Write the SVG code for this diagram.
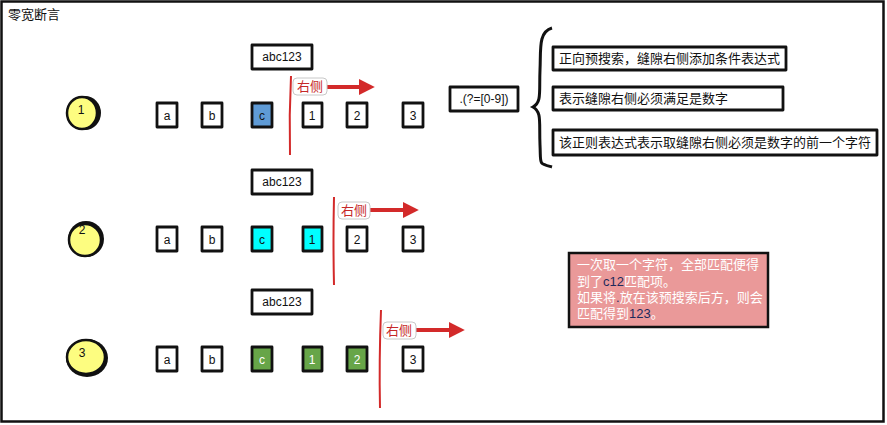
<svg xmlns="http://www.w3.org/2000/svg" width="887" height="425" viewBox="0 0 887 425">
<style>
text{font-family:"Liberation Sans","Noto Sans CJK SC",sans-serif;}
.frame{fill:#fff;stroke:#111;stroke-width:2.5;}
.box{fill:#fff;stroke:#111;stroke-width:2.8;stroke-linejoin:round;}
.lbl{font-size:13px;fill:#111;}
.ch{font-size:12px;fill:#111;text-anchor:middle;}
.blue{fill:#5f9bd6;}
.cyan{fill:#00ffff;}
.green{fill:#67a548;}
.gap{stroke:#d32a2a;stroke-width:2;fill:none;}
.tag{fill:#fff;stroke:#c8c8c8;stroke-width:1;}
.tagt{font-size:13px;fill:#c62828;}
.arr{stroke:#d32a2a;stroke-width:4;fill:none;}
.circ{fill:#fdfd80;stroke:#111;stroke-width:2.5;}
.num{font-size:12px;fill:#111;text-anchor:middle;}
</style>
<defs>
<marker id="ah" viewBox="0 0 10 10" refX="2" refY="5" markerWidth="4" markerHeight="4" orient="auto" markerUnits="strokeWidth">
<path d="M0,0 L10,5 L0,10 z" fill="#d32a2a"/>
</marker>
</defs>
<rect class="frame" x="1.5" y="1.5" width="882" height="420"/>
<text x="8" y="19" class="lbl">零宽断言</text>

<g id="circle1"><ellipse cx="85" cy="113" rx="16" ry="17" fill="#111"/><ellipse class="circ" cx="82" cy="113" rx="15" ry="16"/><text x="81" y="114" class="num">1</text></g>
<g id="circle2"><ellipse cx="86" cy="239" rx="18" ry="18" fill="#111"/><ellipse class="circ" cx="85" cy="240" rx="16" ry="16"/><text x="82" y="234" class="num">2</text></g>
<g id="circle3"><ellipse cx="87" cy="358" rx="21" ry="19" fill="#111"/><ellipse class="circ" cx="86" cy="357" rx="19" ry="17"/><text x="82" y="357" class="num">3</text></g>

<g id="src1"><rect class="box" x="252" y="45" width="60" height="24"/><text x="282" y="61" class="ch">abc123</text></g>
<g id="src2"><rect class="box" x="252" y="170" width="60" height="24"/><text x="282" y="186" class="ch">abc123</text></g>
<g id="src3"><rect class="box" x="252" y="290" width="60" height="24"/><text x="282" y="306" class="ch">abc123</text></g>

<g id="row1">
<g id="r1a"><rect class="box" x="157" y="103" width="20" height="24"/><text x="167" y="120" class="ch">a</text></g>
<g id="r1b"><rect class="box" x="202" y="103" width="20" height="24"/><text x="212" y="120" class="ch">b</text></g>
<g id="r1c"><rect class="box blue" x="252" y="103" width="20" height="24"/><text x="262" y="120" class="ch">c</text></g>
<g id="r11"><rect class="box" x="303" y="103" width="19" height="24"/><text x="312" y="120" class="ch">1</text></g>
<g id="r12"><rect class="box" x="347" y="103" width="20" height="24"/><text x="357" y="120" class="ch">2</text></g>
<g id="r13"><rect class="box" x="403" y="103" width="20" height="24"/><text x="413" y="120" class="ch">3</text></g>
</g>
<g id="row2">
<g id="r2a"><rect class="box" x="157" y="227" width="20" height="24"/><text x="167" y="244" class="ch">a</text></g>
<g id="r2b"><rect class="box" x="202" y="227" width="20" height="24"/><text x="212" y="244" class="ch">b</text></g>
<g id="r2c"><rect class="box cyan" x="252" y="227" width="20" height="24"/><text x="262" y="244" class="ch">c</text></g>
<g id="r21"><rect class="box cyan" x="303" y="227" width="19" height="24"/><text x="312" y="244" class="ch">1</text></g>
<g id="r22"><rect class="box" x="347" y="227" width="20" height="24"/><text x="357" y="244" class="ch">2</text></g>
<g id="r23"><rect class="box" x="403" y="227" width="20" height="24"/><text x="413" y="244" class="ch">3</text></g>
</g>
<g id="row3">
<g id="r3a"><rect class="box" x="157" y="347" width="20" height="24"/><text x="167" y="364" class="ch">a</text></g>
<g id="r3b"><rect class="box" x="202" y="347" width="20" height="24"/><text x="212" y="364" class="ch">b</text></g>
<g id="r3c"><rect class="box green" x="252" y="347" width="20" height="24"/><text x="262" y="364" class="ch" style="fill:#fff">c</text></g>
<g id="r31"><rect class="box green" x="303" y="347" width="19" height="24"/><text x="312" y="364" class="ch" style="fill:#fff">1</text></g>
<g id="r32"><rect class="box green" x="347" y="347" width="20" height="24"/><text x="357" y="364" class="ch" style="fill:#fff">2</text></g>
<g id="r33"><rect class="box" x="403" y="347" width="20" height="24"/><text x="413" y="364" class="ch">3</text></g>
</g>

<g id="connectors">
<path class="gap" d="M291,76 Q289,115 290,155"/>
<path class="gap" d="M334,197 Q333,240 334,285"/>
<path class="gap" d="M381,310 Q379,360 380,408"/>
<line class="arr" x1="327" y1="87" x2="362" y2="87" marker-end="url(#ah)"/>
<line class="arr" x1="370" y1="210" x2="406" y2="210" marker-end="url(#ah)"/>
<line class="arr" x1="416" y1="330" x2="452" y2="330" marker-end="url(#ah)"/>
<path d="M552,28 C538,32 541,50 540,70 C539,92 542,102 533,107 C542,112 539,122 540,145 C541,165 538,163 552,167" fill="none" stroke="#111" stroke-width="3"/>
</g>

<g id="tag1"><rect class="tag" x="293" y="78" width="34" height="17" rx="4"/><text x="310" y="91" class="tagt" text-anchor="middle">右侧</text></g>
<g id="tag2"><rect class="tag" x="338" y="202" width="32" height="17" rx="4"/><text x="354" y="215" class="tagt" text-anchor="middle">右侧</text></g>
<g id="tag3"><rect class="tag" x="383" y="322" width="33" height="17" rx="4"/><text x="399" y="335" class="tagt" text-anchor="middle">右侧</text></g>

<g id="regex"><rect class="box" x="450" y="87" width="68" height="24"/><text x="484" y="103" class="ch">.(?=[0-9])</text></g>
<g id="desc1"><rect class="box" x="553" y="47" width="233" height="23"/><text x="559" y="63" class="lbl">正向预搜索，缝隙右侧添加条件表达式</text></g>
<g id="desc2"><rect class="box" x="553" y="87" width="230" height="23"/><text x="559" y="103" class="lbl">表示缝隙右侧必须满足是数字</text></g>
<g id="desc3"><rect class="box" x="553" y="130" width="324" height="25"/><text x="559" y="147" class="lbl">该正则表达式表示取缝隙右侧必须是数字的前一个字符</text></g>

<g id="note">
<rect x="569" y="253" width="199" height="74" fill="#ea9999" stroke="#111" stroke-width="2.5"/>
<text class="lbl" style="fill:#fff">
<tspan x="577" y="269">一次取一个字符，全部匹配便得</tspan>
<tspan x="577" y="286">到了<tspan style="fill:#1d2a5c">c12</tspan>匹配项。</tspan>
<tspan x="577" y="302">如果将<tspan style="fill:#1d2a5c">.</tspan>放在该预搜索后方，则会</tspan>
<tspan x="577" y="318">匹配得到<tspan style="fill:#1d2a5c">123</tspan>。</tspan>
</text>
</g>
</svg>
